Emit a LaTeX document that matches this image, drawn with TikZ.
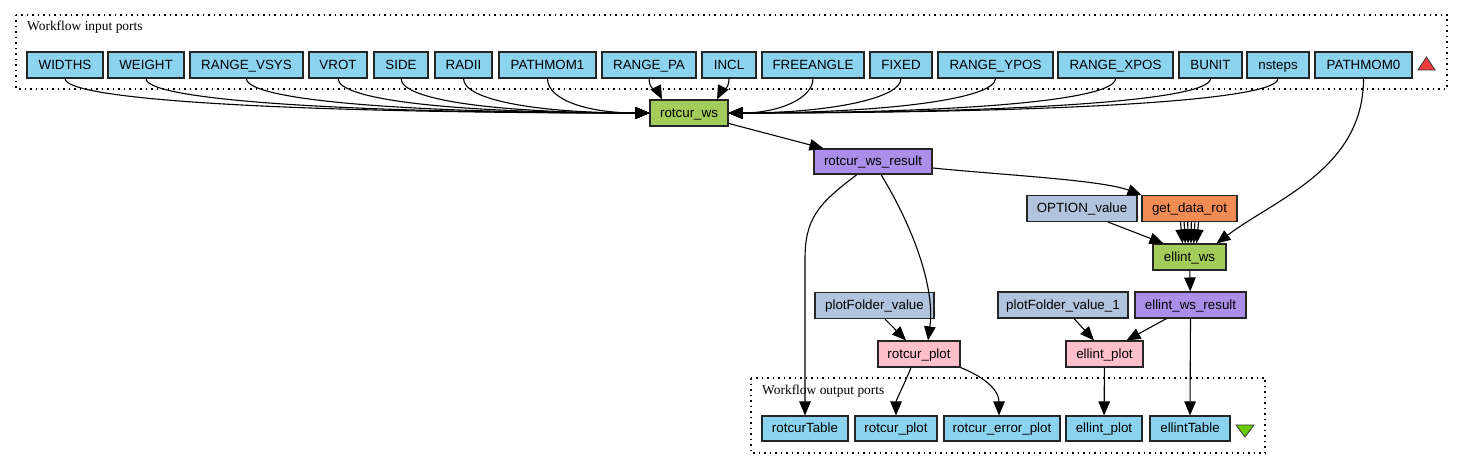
\documentclass[tikz,border=0pt]{standalone}
\usepackage{fontspec}
\setmainfont{Liberation Sans}
\newfontfamily\cluserif{Liberation Serif}
\usetikzlibrary{arrows.meta,calc}
\definecolor{portblue}{HTML}{8BD3EE}
\definecolor{wsgreen}{HTML}{A2CD5A}
\definecolor{splitpurple}{HTML}{AB8EEA}
\definecolor{constblue}{HTML}{B0C4DE}
\definecolor{bshorange}{HTML}{F28C55}
\definecolor{plotpink}{HTML}{FFC0CB}
\definecolor{tri red}{HTML}{F03C3C}
\definecolor{tri green}{HTML}{66CC00}
\begin{document}
\begin{tikzpicture}[x=1bp,y=-1bp,
  box/.style={draw=black!85, line width=1.1bp, inner sep=0pt, minimum height=26bp,
    text height=9.7bp, text depth=1.5bp, font=\fontsize{13.4}{15}\selectfont},
  inport/.style={box, fill=portblue},
  outport/.style={box, fill=portblue, minimum height=25bp},
  wsbox/.style={box, fill=wsgreen},
  splitbox/.style={box, fill=splitpurple},
  constbox/.style={box, fill=constblue},
  bshbox/.style={box, fill=bshorange},
  plotbox/.style={box, fill=plotpink},
  cluster/.style={draw=black, line width=1.1bp, dash pattern=on 1.5bp off 4bp},
  clulabel/.style={anchor=base west, inner sep=0pt, font=\cluserif\fontsize{13.5}{15}\selectfont},
  conn/.style={line width=1.1bp, -{Triangle[length=14bp,width=11.5bp]}}
]
\useasboundingbox (0,0) rectangle (1463,467);

% clusters
\draw[cluster] (16,15) rectangle (1447,89);
\node[clulabel] (inlabel) at (27,31) {Workflow input ports};
\draw[cluster] (751,378) rectangle (1265,453);
\node[clulabel] (outlabel) at (762,394) {Workflow output ports};

% input ports
\node[inport, minimum width=76bp] (widths) at (65,65) {WIDTHS};
\node[inport, minimum width=76bp] (weight) at (146,65) {WEIGHT};
\node[inport, minimum width=113bp] (rvsys) at (246.5,65) {RANGE\_VSYS};
\node[inport, minimum width=58bp] (vrot) at (338,65) {VROT};
\node[inport, minimum width=54bp] (side) at (401,65) {SIDE};
\node[inport, minimum width=57bp] (radii) at (463.5,65) {RADII};
\node[inport, minimum width=97bp] (pm1) at (547.5,65) {PATHMOM1};
\node[inport, minimum width=94bp] (rpa) at (649,65) {RANGE\_PA};
\node[inport, minimum width=54bp] (incl) at (729,65) {INCL};
\node[inport, minimum width=102bp] (free) at (813,65) {FREEANGLE};
\node[inport, minimum width=62bp] (fixed) at (901,65) {FIXED};
\node[inport, minimum width=115bp] (rypos) at (995.5,65) {RANGE\_YPOS};
\node[inport, minimum width=115bp] (rxpos) at (1115.5,65) {RANGE\_XPOS};
\node[inport, minimum width=63bp] (bunit) at (1210.5,65) {BUNIT};
\node[inport, minimum width=62bp] (nsteps) at (1278,65) {nsteps};
\node[inport, minimum width=97bp] (pm0) at (1363.5,65) {PATHMOM0};
\draw[fill=tri red, draw=black!80, line width=0.8bp] (1418,70) -- (1426.5,57) -- (1435,70) -- cycle;

% processors
\node[wsbox, minimum width=78bp] (rw) at (689,113) {rotcur\_ws};
\node[splitbox, minimum width=118bp, minimum height=25bp] (rwr) at (873,161.5) {rotcur\_ws\_result};
\node[constbox, minimum width=110bp] (opt) at (1082,208.5) {OPTION\_value};
\node[bshbox, minimum width=95bp] (gdr) at (1189.5,208.5) {get\_data\_rot};
\node[wsbox, minimum width=73bp] (ew) at (1189.5,257) {ellint\_ws};
\node[constbox, minimum width=130bp] (pfv1) at (1063,305) {plotFolder\_value\_1};
\node[splitbox, minimum width=111bp] (ewr) at (1190.5,305) {ellint\_ws\_result};
\node[constbox, minimum width=119bp] (pfv) at (874.5,305.5) {plotFolder\_value};
\node[plotbox, minimum width=82bp] (rp) at (919,354) {rotcur\_plot};
\node[plotbox, minimum width=77bp] (ep) at (1104.5,354) {ellint\_plot};

% output ports
\node[outport, minimum width=86bp] (otbl) at (805,428.5) {rotcurTable};
\node[outport, minimum width=82bp] (orp) at (896,428.5) {rotcur\_plot};
\node[outport, minimum width=116bp] (orep) at (1002,428.5) {rotcur\_error\_plot};
\node[outport, minimum width=76bp] (oep) at (1104,428.5) {ellint\_plot};
\node[outport, minimum width=80bp] (oetbl) at (1190,428.5) {ellintTable};
\draw[fill=tri green, draw=black!80, line width=0.8bp] (1236,425) -- (1254,425) -- (1245,437) -- cycle;

% inputs -> rotcur_ws (left side)
\draw[conn] (widths.south) .. controls +(0,22) and +(-350,0) .. (rw.west);
\draw[conn] (weight.south) .. controls +(0,22) and +(-300,0) .. (rw.west);
\draw[conn] (rvsys.south) .. controls +(0,22) and +(-240,0) .. (rw.west);
\draw[conn] (vrot.south) .. controls +(0,22) and +(-190,0) .. (rw.west);
\draw[conn] (side.south) .. controls +(0,22) and +(-150,0) .. (rw.west);
\draw[conn] (radii.south) .. controls +(0,22) and +(-110,0) .. (rw.west);
\draw[conn] (pm1.south) .. controls +(0,22) and +(-60,0) .. (rw.west);
% top
\draw[conn] (rpa.south) .. controls +(0,12) and +(-4,-8) .. ($(rw.north)+(-27,0)$);
\draw[conn] (incl.south) .. controls +(0,12) and +(4,-8) .. ($(rw.north)+(28,0)$);
% right side
\draw[conn] (free.south) .. controls +(0,20) and +(50,0) .. (rw.east);
\draw[conn] (fixed.south) .. controls +(0,20) and +(100,0) .. (rw.east);
\draw[conn] (rypos.south) .. controls +(0,20) and +(160,0) .. (rw.east);
\draw[conn] (rxpos.south) .. controls +(0,22) and +(230,0) .. (rw.east);
\draw[conn] (bunit.south) .. controls +(0,22) and +(290,0) .. (rw.east);
\draw[conn] (nsteps.south) .. controls +(0,22) and +(330,0) .. (rw.east);

% rotcur chain
\draw[conn] (rw) -- (rwr);
\draw[conn] ($(rwr.east)+(0,6.5)$) .. controls +(70,7) and +(-40,-15) .. (gdr.north west);
\draw[conn] ($(rwr.south)+(-16,0)$) .. controls +(-40,30) and +(0,-40) .. ($(otbl.north)+(0,-156)$) -- (otbl.north);
\draw[conn] ($(rwr.south)+(8,0)$) .. controls +(34,56) and +(7,-51) .. ($(rp.north)+(9,0)$);
\draw[conn] ($(pfv.south)+(10.5,0)$) -- ($(rp.north)+(-13,0)$);
\draw[conn] ($(rp.south)+(-8,0)$) .. controls +(-6,15) and +(0,-15) .. (orp.north);
\draw[conn] (rp.south east) .. controls +(25,10) and +(0,-25) .. ($(orep.north)+(-3,0)$);

% ellint chain
\draw[conn] (pm0.south) .. controls +(0,90) and +(60,-45) .. ($(ew.north)+(27,0)$);
\draw[conn] ($(opt.south)+(26,0)$) -- ($(ew.north)+(-26,0)$);
\foreach \a/\b in {-9/-7,-5.4/-4.2,-1.8/-1.4,1.8/1.4,5.4/4.2,9/7}{
  \draw[conn] ($(gdr.south)+(\a,0)$) -- ($(ew.north)+(\b,0)$);
}
\draw[conn] (ew) -- (ewr);
\draw[conn] (ewr.south) -- (oetbl.north);
\draw[conn] ($(ewr.south)+(-24,0)$) -- ($(ep.north)+(22,0)$);
\draw[conn] ($(pfv1.south)+(11,0)$) -- ($(ep.north)+(-10.5,0)$);
\draw[conn] (ep) -- (oep);
\end{tikzpicture}
\end{document}
